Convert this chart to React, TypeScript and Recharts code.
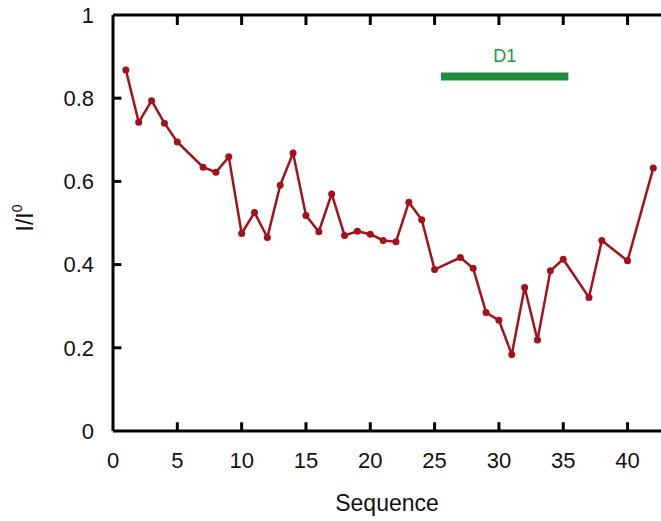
import React from 'react';
import { LineChart, Line, XAxis, YAxis, ReferenceLine, Label } from 'recharts';

const sequence = [1, 2, 3, 4, 5, 7, 8, 9, 10, 11, 12, 13, 14, 15, 16, 17, 18, 19, 20, 21, 22, 23, 24, 25, 27, 28, 29, 30, 31, 32, 33, 34, 35, 37, 38, 40, 42];
const ratio = [0.868, 0.742, 0.794, 0.74, 0.695, 0.634, 0.622, 0.659, 0.475, 0.525, 0.465, 0.591, 0.668, 0.518, 0.479, 0.57, 0.47, 0.48, 0.473, 0.458, 0.455, 0.55, 0.508, 0.388, 0.417, 0.391, 0.285, 0.266, 0.184, 0.345, 0.219, 0.385, 0.413, 0.321, 0.458, 0.409, 0.632];
const xTicks = [0, 5, 10, 15, 20, 25, 30, 35, 40];
const yTicks = [0, 0.2, 0.4, 0.6, 0.8, 1];
const domainLabel = 'D1';
const domainStart = 25.5;
const domainEnd = 35.4;
const domainLevel = 0.852;

const data = sequence.map((s, i) => ({ s, v: ratio[i] }));

const FONT = '"Liberation Sans", Arial, Helvetica, sans-serif';
const LINE_COLOR = '#a3111a';
const X_DOMAIN: [number, number] = [0, 42.6];
const Y_DOMAIN: [number, number] = [0, 1];
// inward tick lengths expressed in axis units (about 8-9 px)
const X_TICK_LEN = 0.021;
const Y_TICK_LEN = 0.65;

const EmptyTick = () => <g />;

const YLabel = (props: any) => {
  const vb = props.viewBox || { x: 0, y: 0, width: 0, height: 0 };
  const cx = vb.x + 25;
  const cy = vb.y + vb.height / 2 - 5;
  return (
    <text
      x={cx}
      y={cy}
      transform={`rotate(-90 ${cx} ${cy})`}
      textAnchor="middle"
      dominantBaseline="central"
      fontFamily={FONT}
      fontSize={23}
      fill="#111"
    >
      I/I<tspan fontSize={14} dy={-8}>0</tspan>
    </text>
  );
};

const axisLineStyle = { stroke: '#000', strokeWidth: 3 };

export default function App() {
  return (
    <div style={{ position: 'fixed', left: 0, top: 0, width: 661, height: 521, overflow: 'hidden', background: '#fff' }}>
      <LineChart width={661} height={521} data={data} margin={{ top: 15, right: 0, left: 0, bottom: 0 }}>
        <XAxis
          xAxisId="top"
          orientation="top"
          mirror
          dataKey="s"
          type="number"
          domain={X_DOMAIN}
          ticks={xTicks}
          allowDataOverflow
          tick={EmptyTick}
          tickLine={false}
          axisLine={axisLineStyle}
        />
        <XAxis
          dataKey="s"
          type="number"
          domain={X_DOMAIN}
          ticks={xTicks}
          allowDataOverflow
          height={90}
          tickSize={0}
          tickMargin={21}
          axisLine={axisLineStyle}
          tickLine={false}
          tick={{ fill: '#111', fontSize: 22, fontFamily: FONT }}
        >
          <Label value="Sequence" position="insideBottom" offset={10} fill="#111" fontSize={23} fontFamily={FONT} />
        </XAxis>
        <YAxis
          type="number"
          domain={Y_DOMAIN}
          ticks={yTicks}
          allowDataOverflow
          width={113}
          tickSize={0}
          tickMargin={19}
          axisLine={axisLineStyle}
          tickLine={false}
          tick={{ fill: '#111', fontSize: 22, fontFamily: FONT }}
        >
          <Label content={YLabel} />
        </YAxis>
        {xTicks.filter((t) => t > 0).map((t) => (
          <ReferenceLine
            key={`b${t}`}
            segment={[{ x: t, y: 0 }, { x: t, y: X_TICK_LEN }]}
            stroke="#000"
            strokeWidth={3}
            ifOverflow="visible"
          />
        ))}
        {xTicks.filter((t) => t > 0).map((t) => (
          <ReferenceLine
            key={`t${t}`}
            segment={[{ x: t, y: 1 }, { x: t, y: 1 - X_TICK_LEN - 0.003 }]}
            stroke="#000"
            strokeWidth={3}
            ifOverflow="visible"
          />
        ))}
        {yTicks.filter((t) => t > 0 && t < 1).map((t) => (
          <ReferenceLine
            key={`l${t}`}
            segment={[{ x: 0, y: t }, { x: Y_TICK_LEN, y: t }]}
            stroke="#000"
            strokeWidth={3}
            ifOverflow="visible"
          />
        ))}
        <ReferenceLine
          segment={[{ x: domainStart, y: domainLevel }, { x: domainEnd, y: domainLevel }]}
          stroke="#1f8f3a"
          strokeWidth={8}
          label={{ value: domainLabel, position: 'top', offset: 15, fill: '#1a9a4e', fontSize: 18, fontFamily: FONT }}
        />
        <Line
          xAxisId="top"
          dataKey="v"
          stroke="none"
          strokeWidth={0}
          dot={false}
          activeDot={false}
          legendType="none"
          isAnimationActive={false}
        />
        <Line
          dataKey="v"
          type="linear"
          stroke={LINE_COLOR}
          strokeWidth={2.5}
          dot={{ r: 3.5, fill: LINE_COLOR, stroke: LINE_COLOR, strokeWidth: 0 }}
          isAnimationActive={false}
        />
      </LineChart>
    </div>
  );
}
